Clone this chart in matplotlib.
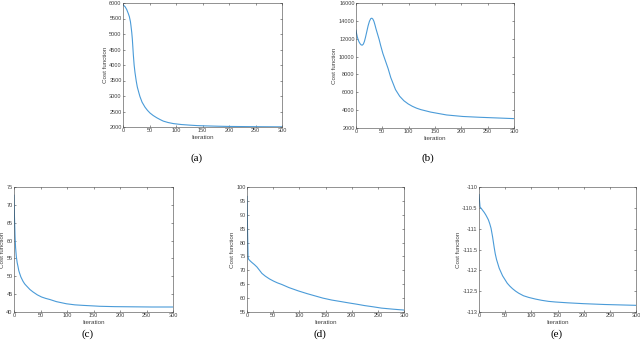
import numpy as np
import matplotlib.pyplot as plt

plt.rcParams['font.family'] = ['Liberation Sans', 'DejaVu Sans']

# values
it_a = [0, 4, 7, 10, 12, 14, 15, 16.5, 17.6, 18.5, 19.5, 21, 22.6, 25, 27, 30, 32, 36, 41.5, 46, 51,
        57, 63.5, 70, 76, 85, 95, 110, 126, 140, 158, 180, 200, 250, 300]
cost_a = [5940, 5880, 5790, 5660, 5560, 5400, 5270, 5050, 4840, 4600, 4330, 4000, 3760, 3480, 3290,
          3100, 2980, 2800, 2640, 2540, 2450, 2370, 2300, 2240, 2190, 2145, 2110, 2080, 2060, 2045,
          2035, 2025, 2018, 2010, 2005]

it_b = [0, 1, 2.5, 4, 5.7, 8, 10, 12, 14, 16, 18, 20.5, 23, 25.5, 28, 30, 32, 34, 36, 38, 40.5, 44,
        47, 51, 56, 61, 66, 70, 75, 83, 91, 99, 107, 115, 123, 142, 172, 203, 235, 270, 300]
cost_b = [12950, 12600, 12200, 11900, 11650, 11420, 11300, 11280, 11400, 11700, 12150, 12800, 13450,
          13950, 14250, 14300, 14200, 13950, 13550, 13100, 12600, 11900, 11200, 10350, 9500, 8650,
          7650, 7050, 6300, 5550, 5050, 4700, 4430, 4220, 4060, 3780, 3460, 3290, 3200, 3120, 3050]

it_c = [0, 0.5, 1, 1.5, 2, 3, 4.4, 6, 7.6, 9, 10.7, 13, 17, 20, 23, 30, 36, 44, 52, 60, 67.6, 80, 99,
        115, 131, 150, 162, 190, 225, 260, 300]
cost_c = [72.7, 69, 66, 63.5, 61, 58, 55.5, 53.8, 52.7, 51.6, 50.8, 49.8, 48.6, 47.9, 47.4, 46.3,
          45.6, 44.8, 44.2, 43.8, 43.5, 42.9, 42.3, 42.0, 41.85, 41.7, 41.6, 41.5, 41.45, 41.4, 41.4]

it_d = [0, 1, 2, 3, 6, 9.5, 14, 19, 24, 28.5, 35, 43, 51, 58, 66.6, 80, 98, 115, 130, 145, 162, 178,
        193.5, 210, 225, 240, 257, 280, 300]
cost_d = [96.6, 85, 74.9, 74.0, 73.4, 72.8, 72.1, 71.2, 70.0, 68.9, 67.9, 66.9, 66.1, 65.5, 64.9,
          63.8, 62.6, 61.6, 60.8, 60.0, 59.3, 58.8, 58.3, 57.8, 57.3, 56.9, 56.4, 56.0, 55.7]

it_e = [0, 1, 2, 4, 7, 10, 13, 16, 18, 20.5, 23, 26, 29, 31, 33.5, 38.6, 45, 50, 54, 59, 64, 70, 76,
        85, 95, 108, 120, 133, 146, 170, 200, 240, 300]
cost_e = [-110.18, -110.33, -110.48, -110.51, -110.56, -110.61, -110.67, -110.74, -110.79, -110.88,
          -110.99, -111.20, -111.45, -111.60, -111.74, -111.95, -112.13, -112.23, -112.31, -112.38,
          -112.44, -112.50, -112.55, -112.61, -112.65, -112.69, -112.72, -112.745, -112.76, -112.78,
          -112.80, -112.82, -112.84]

xticks = [0, 50, 100, 150, 200, 250, 300]
yticks_a = np.arange(2000, 6001, 500)
yticks_b = np.arange(2000, 16001, 2000)
yticks_c = np.arange(40, 76, 5)
yticks_d = np.arange(55, 101, 5)
yticks_e = [-113, -112.5, -112, -111.5, -111, -110.5, -110]
ylabels_e = ['-113', '-112.5', '-112', '-111.5', '-111', '-110.5', '-110']

W, H = 640, 347
fig = plt.figure(figsize=(6.4, 3.47), dpi=100)


def panel(x0, x1, y0, y1, it, cost, yticks, caption, cap_x, cap_y, ylabels=None):
    ax = fig.add_axes([x0 / W, 1 - y1 / H, (x1 - x0) / W, (y1 - y0) / H])
    ax.plot(it, cost, color='#4a9bd8', linewidth=0.8)
    ax.set_xlim(0, 300)
    ax.set_ylim(yticks[0], yticks[-1])
    ax.set_xticks(xticks)
    ax.set_yticks(yticks)
    if ylabels is not None:
        ax.set_yticklabels(ylabels)
    ax.tick_params(direction='in', length=1.5, width=0.4, labelsize=4, pad=1,
                   colors='#404040', top=True, right=True)
    for s in ax.spines.values():
        s.set_linewidth(0.4)
        s.set_color('#404040')
    ax.set_xlabel('Iteration', fontsize=4.5, labelpad=1, color='#404040')
    ax.set_ylabel('Cost function', fontsize=4.5, labelpad=1, color='#404040')
    fig.text(cap_x / W, 1 - cap_y / H, caption, ha='center', va='center',
             fontsize=8, family='Liberation Serif')
    return ax


panel(123, 282, 3, 127, it_a, cost_a, yticks_a, '(a)', 197, 158)
panel(356, 514, 3, 128, it_b, cost_b, yticks_b, '(b)', 428, 158)
panel(14, 173, 187, 312, it_c, cost_c, yticks_c, '(c)', 88, 334)
panel(247, 404, 187, 312, it_d, cost_d, yticks_d, '(d)', 320, 334)
panel(479, 636, 187, 312, it_e, cost_e, yticks_e, '(e)', 557, 334, ylabels_e)

fig.savefig('out.png', dpi=100)
